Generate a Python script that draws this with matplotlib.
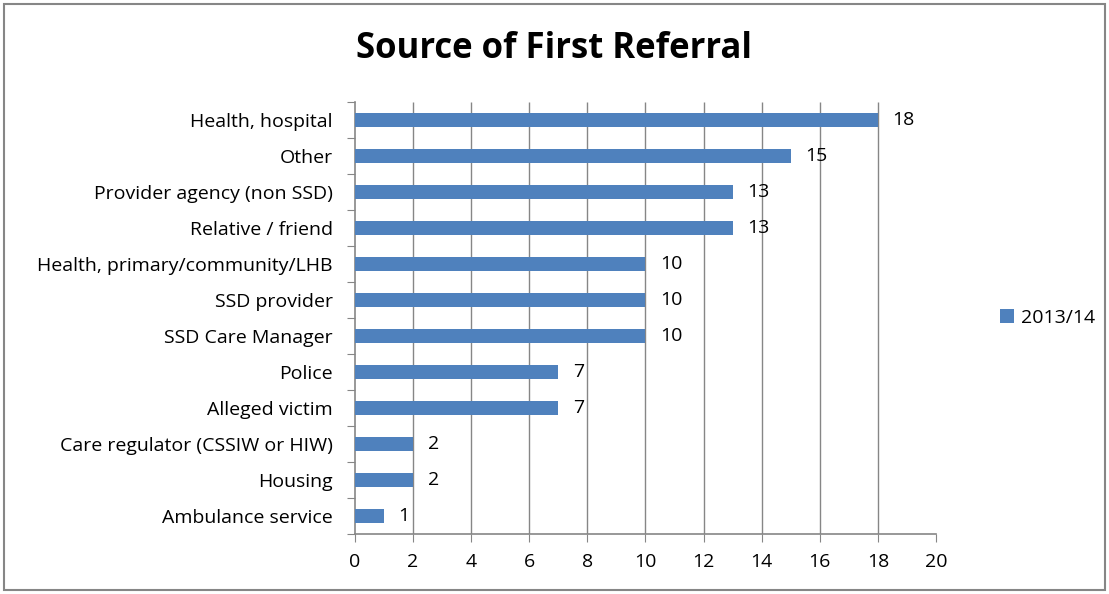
import numpy as np
import matplotlib
matplotlib.use("Agg")
import matplotlib.pyplot as plt

categories = ["Health, hospital", "Other", "Provider agency (non SSD)",
              "Relative / friend", "Health, primary/community/LHB",
              "SSD provider", "SSD Care Manager", "Police", "Alleged victim",
              "Care regulator (CSSIW or HIW)", "Housing", "Ambulance service"]
values = [18, 15, 13, 13, 10, 10, 10, 7, 7, 2, 2, 1]
series_name = "2013/14"
xticks = list(range(0, 21, 2))

plt.rcParams['font.family'] = ['Open Sans', 'DejaVu Sans']
blue = "#4f81bd"
grey = "#868686"

fig = plt.figure(figsize=(11.09, 5.94), dpi=100)
ax = fig.add_axes([0.320, 0.101, 0.524, 0.727])

y = np.arange(len(categories))
ax.barh(y, values, height=0.4, color=blue, zorder=3, label=series_name)
ax.set_ylim(len(categories) - 0.5, -0.5)
ax.set_xlim(0, 20)
ax.set_xticks(xticks)
ax.set_xticklabels([str(t) for t in xticks], fontsize=14)

# category labels sit between the boundary ticks
ax.set_yticks(np.arange(len(categories) + 1) - 0.5)
ax.set_yticklabels([])
ax.set_yticks(y, minor=True)
ax.set_yticklabels(categories, minor=True, fontsize=14)
ax.tick_params(axis='y', which='minor', length=0, pad=16)
ax.tick_params(axis='y', which='major', length=6, color=grey, direction='out')
ax.tick_params(axis='x', length=6, color=grey, direction='out', pad=8)

# vertical gridlines (none at the right edge)
ax.vlines(xticks[1:-1], -0.5, len(categories) - 0.5, color=grey,
          linewidth=1, zorder=0)
for s in ['top', 'right']:
    ax.spines[s].set_visible(False)
for s in ['left', 'bottom']:
    ax.spines[s].set_color(grey)
    ax.spines[s].set_linewidth(1.2)

for yi, v in zip(y, values):
    ax.text(v + 0.5, yi, str(v), va='center', ha='left', fontsize=14)

fig.text(0.5, 0.918, "Source of First Referral", ha='center', va='center',
         fontsize=25, fontweight='bold')

ax.legend(loc='center left', bbox_to_anchor=(1.08, 0.5), frameon=False,
          fontsize=14, handlelength=0.7, handleheight=0.7, handletextpad=0.4)

border = plt.Rectangle((0.004, 0.007), 0.992, 0.986, transform=fig.transFigure,
                       fill=False, edgecolor=grey, linewidth=1.5)
fig.patches.append(border)

fig.savefig("out.png", dpi=100)
